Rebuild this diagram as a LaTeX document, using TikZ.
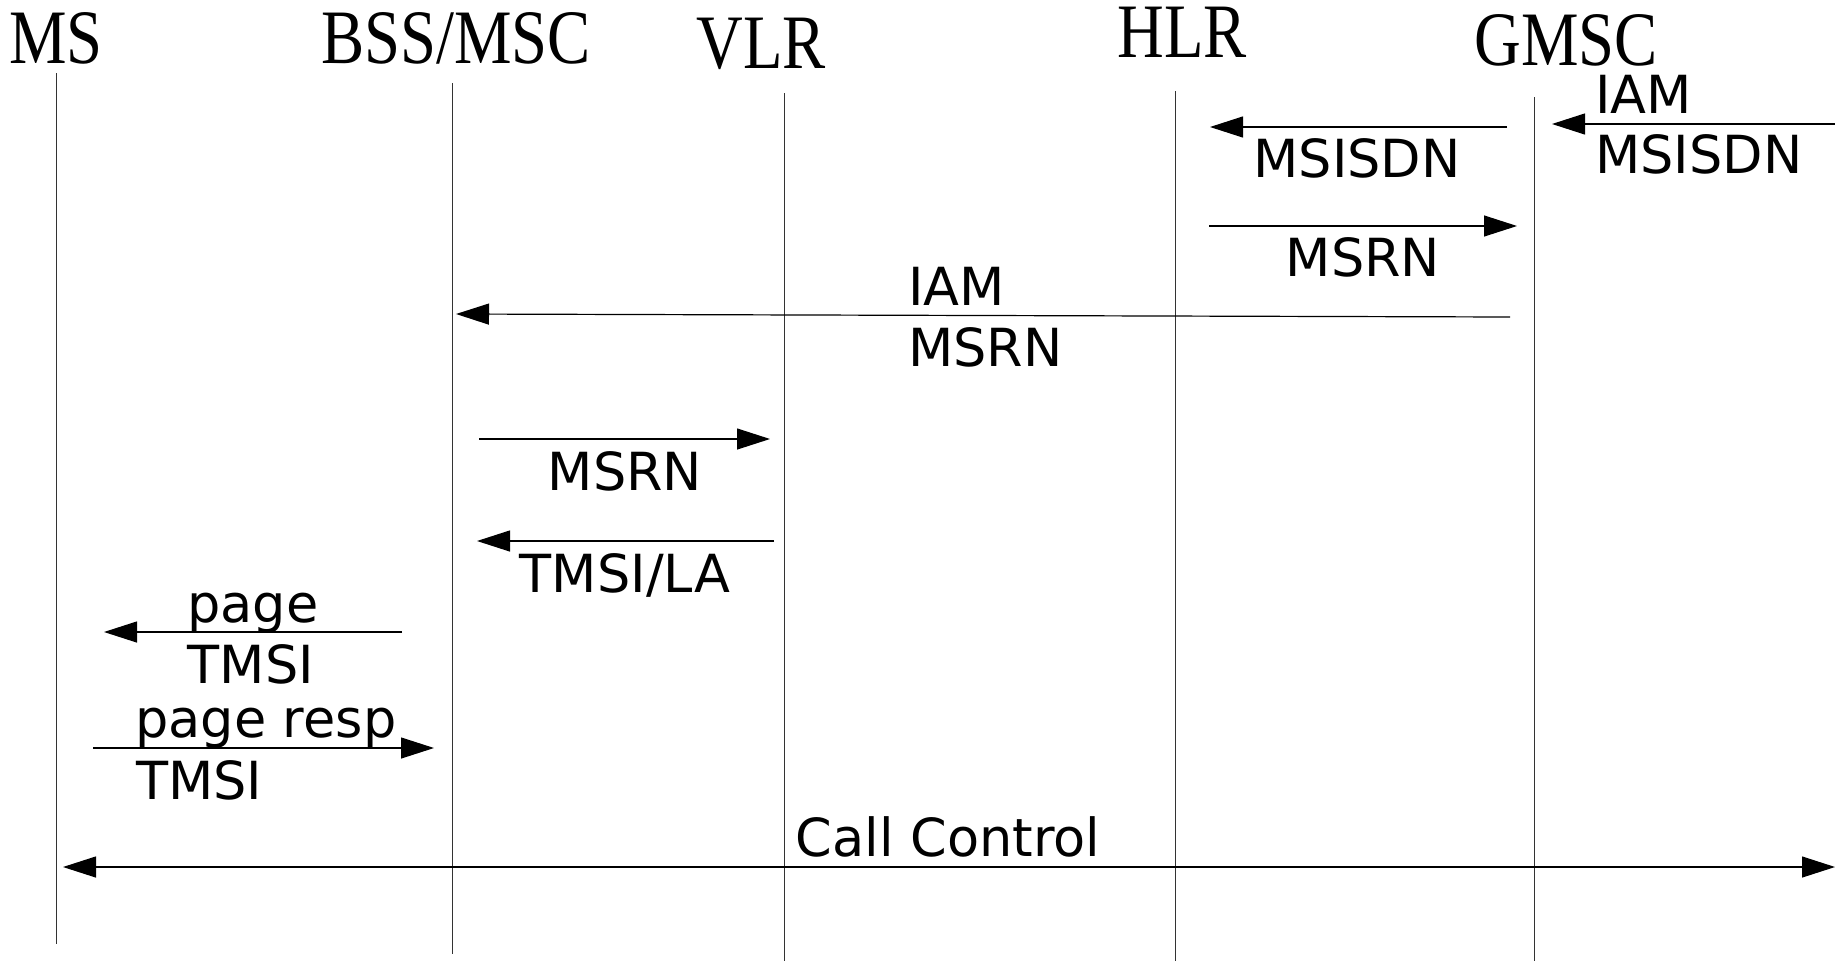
\documentclass[tikz,border=0pt]{standalone}
\usepackage{fontspec}
\setmainfont{DejaVu Sans}
\newfontfamily\hdrfont[FakeStretch=0.84]{Liberation Serif}
\usetikzlibrary{arrows.meta}
\begin{document}
\begin{tikzpicture}[x=1pt,y=-1pt,
  hdr/.style={font=\hdrfont\fontsize{77}{77}\selectfont, inner sep=0pt, anchor=base},
  lbl/.style={font=\fontsize{52.5}{52.5}\selectfont, inner sep=0pt, anchor=base},
  lblw/.style={lbl, anchor=base west},
  life/.style={line width=0.9pt, black!80},
  msg/.style={line width=1.2pt, -{Triangle[length=33pt,width=21pt]}},
  both/.style={line width=1.2pt, {Triangle[length=33pt,width=21pt]}-{Triangle[length=33pt,width=21pt]}},
]
\useasboundingbox (0,0) rectangle (1835,961);

% entity headers
\node[hdr] (ms)   at (56,63)   {MS};
\node[hdr] (bss)  at (456,63)  {BSS/MSC};
\node[hdr] (vlr)  at (761,68)  {VLR};
\node[hdr] (hlr)  at (1182,57) {HLR};
\node[hdr] (gmsc) at (1566,65) {GMSC};

% lifelines
\coordinate (ms-t)   at (56,73);    \coordinate (ms-b)   at (56,944);
\coordinate (bss-t)  at (452,83);   \coordinate (bss-b)  at (452,954);
\coordinate (vlr-t)  at (784,93);   \coordinate (vlr-b)  at (784,961);
\coordinate (hlr-t)  at (1175,91);  \coordinate (hlr-b)  at (1175,961);
\coordinate (gmsc-t) at (1534,97);  \coordinate (gmsc-b) at (1534,961);
\draw[life] (ms-t) -- (ms-b);
\draw[life] (bss-t) -- (bss-b);
\draw[life] (vlr-t) -- (vlr-b);
\draw[life] (hlr-t) -- (hlr-b);
\draw[life] (gmsc-t) -- (gmsc-b);

% incoming IAM to GMSC
\coordinate (in-a) at (1840,124); \coordinate (in-b) at (1552,124);
\draw[msg] (in-a) -- (in-b);
\node[lblw] (l-iam1) at (1595,113) {IAM};
\node[lblw] (l-msisdn1) at (1595,173) {MSISDN};

% GMSC -> HLR
\coordinate (m1-a) at (1507,127); \coordinate (m1-b) at (1210,127);
\draw[msg] (m1-a) -- (m1-b);
\node[lbl] (l-msisdn2) at (1357,177) {MSISDN};

% HLR -> GMSC
\coordinate (m2-a) at (1209,226); \coordinate (m2-b) at (1517,226);
\draw[msg] (m2-a) -- (m2-b);
\node[lbl] (l-msrn1) at (1363,276) {MSRN};

% GMSC -> BSS/MSC
\coordinate (m3-a) at (1510,317); \coordinate (m3-b) at (456,314);
\draw[msg] (m3-a) -- (m3-b);
\node[lblw] (l-iam2) at (908,305) {IAM};
\node[lblw] (l-msrn2) at (908,366) {MSRN};

% BSS/MSC -> VLR
\coordinate (m4-a) at (479,439); \coordinate (m4-b) at (770,439);
\draw[msg] (m4-a) -- (m4-b);
\node[lbl] (l-msrn3) at (625,490) {MSRN};

% VLR -> BSS/MSC
\coordinate (m5-a) at (774,541); \coordinate (m5-b) at (477,541);
\draw[msg] (m5-a) -- (m5-b);
\node[lbl] (l-tmsila) at (625,592) {TMSI/LA};

% paging
\coordinate (m6-a) at (402,632); \coordinate (m6-b) at (104,632);
\draw[msg] (m6-a) -- (m6-b);
\node[lbl] (l-page) at (253,622) {page};
\node[lbl] (l-tmsi1) at (251,683) {TMSI};

% page response
\coordinate (m7-a) at (93,748); \coordinate (m7-b) at (434,748);
\draw[msg] (m7-a) -- (m7-b);
\node[lblw] (l-resp) at (135,737) {page resp};
\node[lblw] (l-tmsi2) at (136,799) {TMSI};

% call control
\coordinate (cc-a) at (63,867); \coordinate (cc-b) at (1835,867);
\draw[both] (cc-a) -- (cc-b);
\node[lbl] (l-cc) at (948,856) {Call Control};
\end{tikzpicture}
\end{document}
